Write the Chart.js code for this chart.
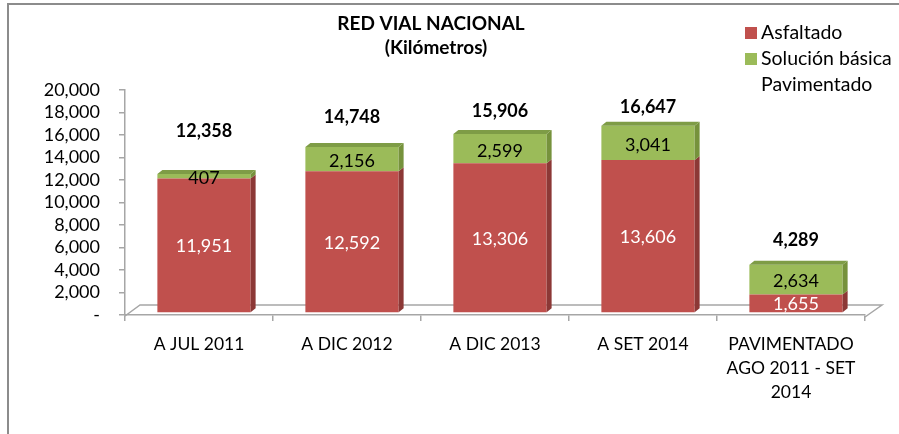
<!DOCTYPE html>
<html>
<head>
<meta charset="utf-8">
<script src="https://cdn.jsdelivr.net/npm/chart.js@4.4.1/dist/chart.umd.min.js"></script>
<style>
  html, body { margin: 0; padding: 0; background: #fff; }
  #wrap { position: relative; width: 899px; height: 434px; overflow: hidden; }
  #frame { position: absolute; left: 7px; top: 3px; width: 900px; height: 440px; border: 2px solid #8c8c8c; box-sizing: border-box; }
  canvas { position: absolute; left: 0; top: 0; }
</style>
</head>
<body>
<div id="wrap">
  <div id="frame"></div>
  <canvas id="redVialChart" width="899" height="434"></canvas>
</div>
<script>
// datos
const categorias = ['A JUL 2011', 'A DIC 2012', 'A DIC 2013', 'A SET 2014', ['PAVIMENTADO', 'AGO 2011 - SET', '2014']];
const asfaltado = [11951, 12592, 13306, 13606, 1655];
const solucionBasica = [407, 2156, 2599, 3041, 2634];
const pavimentado = [12358, 14748, 15906, 16647, 4289];
const yTicks = [0, 2000, 4000, 6000, 8000, 10000, 12000, 14000, 16000, 18000, 20000];

const FONT = 'Lato, "Open Sans", sans-serif';
const DX = 5, DY = -4;       // profundidad 3D de las barras
const SHIFT_X = 5, SHIFT_Y = -2;

function fmt(v) {
    return v.toLocaleString('en-US');
}

// piso 3D, caras de las barras, etiquetas, titulo y leyenda
const decoPlugin = {
    id: 'deco',
    beforeDatasetsDraw(chart) {
        const { ctx, chartArea: a } = chart;
        ctx.save();
        ctx.strokeStyle = '#a6a6a6';
        ctx.lineWidth = 1.5;
        ctx.beginPath();
        ctx.moveTo(a.left, a.bottom + 1);
        ctx.lineTo(a.left + 15, a.bottom - 10);
        ctx.lineTo(a.right + 17, a.bottom - 10);
        ctx.lineTo(a.right, a.bottom + 2);
        ctx.stroke();
        ctx.restore();
        ctx.save();
        ctx.translate(SHIFT_X, SHIFT_Y);
    },
    afterDatasetsDraw(chart) {
        const { ctx, chartArea: a } = chart;
        const metaR = chart.getDatasetMeta(0);
        const metaG = chart.getDatasetMeta(1);
        const metaT = chart.getDatasetMeta(2);
        [[metaR, '#8c3836'], [metaG, '#76923c']].forEach(([meta, side]) => {
            meta.data.forEach(el => {
                const r = el.x + el.width / 2;
                ctx.fillStyle = side;
                ctx.beginPath();
                ctx.moveTo(r, el.y);
                ctx.lineTo(r + DX, el.y + DY);
                ctx.lineTo(r + DX, el.base + DY);
                ctx.lineTo(r, el.base);
                ctx.closePath();
                ctx.fill();
            });
        });
        metaG.data.forEach(el => {
            const l = el.x - el.width / 2, r = el.x + el.width / 2;
            ctx.fillStyle = '#7e9c46';
            ctx.beginPath();
            ctx.moveTo(l, el.y);
            ctx.lineTo(l + DX, el.y + DY);
            ctx.lineTo(r + DX, el.y + DY);
            ctx.lineTo(r, el.y);
            ctx.closePath();
            ctx.fill();
        });
        ctx.textAlign = 'center';
        ctx.textBaseline = 'middle';
        ctx.font = '18px ' + FONT;
        metaR.data.forEach((el, i) => {
            ctx.fillStyle = '#ffffff';
            ctx.fillText(fmt(asfaltado[i]), el.x, (el.y + el.base) / 2 + 1);
        });
        metaG.data.forEach((el, i) => {
            ctx.fillStyle = '#000000';
            ctx.fillText(fmt(solucionBasica[i]), el.x, (el.y + el.base) / 2 + 2);
        });
        ctx.font = 'bold 18px ' + FONT;
        metaT.data.forEach((el, i) => {
            const top = Math.max(el.y, a.top);
            ctx.fillStyle = '#000000';
            ctx.fillText(fmt(pavimentado[i]), el.x, (top + el.base) / 2);
        });
        ctx.restore();

        // titulo
        ctx.save();
        ctx.fillStyle = '#000';
        ctx.textAlign = 'center';
        ctx.textBaseline = 'middle';
        ctx.font = 'bold 19px ' + FONT;
        ctx.fillText('RED VIAL NACIONAL', 431, 24);
        ctx.fillText('(Kilómetros)', 436, 48);

        // leyenda
        ctx.textAlign = 'left';
        ctx.font = '19.5px ' + FONT;
        chart.data.datasets.forEach((ds, i) => {
            const y = 33 + i * 26;
            if (ds.legendColor) {
                ctx.fillStyle = ds.legendColor;
                ctx.fillRect(745, y - 6, 12, 12);
            }
            ctx.fillStyle = '#000';
            ctx.fillText(ds.label, 761, y);
        });
        ctx.restore();
    }
};

const ctx = document.getElementById('redVialChart').getContext('2d');
const redVialChart = new Chart(ctx, {
    type: 'bar',
    data: {
        labels: categorias,
        datasets: [{
            label: 'Asfaltado',
            data: asfaltado,
            backgroundColor: '#c0504d',
            legendColor: '#c0504d'
        }, {
            label: 'Solución básica',
            data: solucionBasica,
            backgroundColor: '#9bbb59',
            legendColor: '#9bbb59'
        }, {
            label: 'Pavimentado',
            data: pavimentado,
            backgroundColor: 'rgba(0,0,0,0)'
        }]
    },
    options: {
        responsive: false,
        animation: false,
        events: [],
        layout: { padding: { top: 90, right: 34, bottom: 0, left: 0 } },
        datasets: {
            bar: { categoryPercentage: 1, barPercentage: 0.63, borderWidth: 0 }
        },
        scales: {
            x: {
                stacked: true,
                grid: { offset: true, drawOnChartArea: false, drawTicks: true, tickLength: 6, color: '#a6a6a6', lineWidth: 1.5 },
                border: { color: '#a6a6a6', width: 1.5 },
                ticks: { color: '#000', font: { family: FONT, size: 17.5, lineHeight: 1.37 }, padding: 11, maxRotation: 0, autoSkip: false },
                afterFit: s => { s.height = 119; }
            },
            y: {
                stacked: true,
                min: 0,
                max: 20000,
                afterBuildTicks: s => { s.ticks = yTicks.map(v => ({ value: v })); },
                grid: { drawOnChartArea: false, drawTicks: true, tickLength: 6, color: '#a6a6a6', lineWidth: 1.5 },
                border: { color: '#a6a6a6', width: 1.5 },
                ticks: {
                    color: '#000',
                    autoSkip: false,
                    font: { family: FONT, size: 18 },
                    padding: 19,
                    callback: v => v === 0 ? '-' : fmt(v)
                },
                afterFit: s => { s.width = 125; }
            }
        },
        plugins: {
            legend: { display: false },
            title: { display: false },
            tooltip: { enabled: false }
        }
    },
    plugins: [decoPlugin]
});
</script>
</body>
</html>
